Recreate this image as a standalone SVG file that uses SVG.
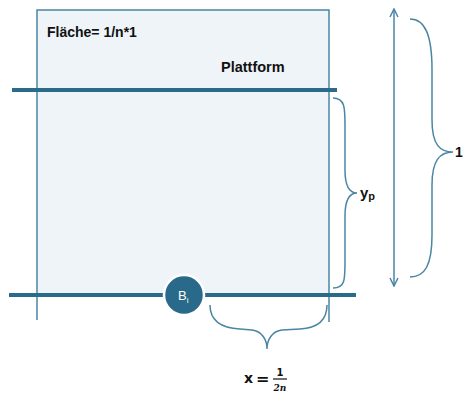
<svg xmlns="http://www.w3.org/2000/svg" width="465" height="395" viewBox="0 0 465 395">
<defs>
<style>
.thin{fill:none;stroke:#4a86a3;stroke-width:1.5}
.thick{fill:none;stroke:#2b6b8a;stroke-width:4}
.lbl{font-family:"Liberation Sans",Arial,sans-serif;font-weight:bold;fill:#111}
</style>
<marker id="chev" viewBox="0 0 10 10" refX="9" refY="5" markerWidth="10" markerHeight="10" markerUnits="userSpaceOnUse" orient="auto-start-reverse">
<path d="M1,1 L9,5 L1,9" fill="none" stroke="#4a86a3" stroke-width="1.5"/>
</marker>
</defs>
<rect width="465" height="395" fill="#fff"/>
<g id="area">
<rect x="37" y="10" width="292" height="285" fill="#eef4f8" stroke="#4a86a3" stroke-width="1.5"/>
<line class="thin" x1="37" y1="295" x2="37" y2="320"/>
<line class="thin" x1="329" y1="295" x2="329" y2="322"/>
<text class="lbl" x="47" y="37" font-size="14">Fläche= 1/n*1</text>
<text class="lbl" x="221" y="72" font-size="14.5">Plattform</text>
</g>
<g id="connectors">
<line class="thick" x1="12" y1="90" x2="337" y2="90"/>
<line class="thick" x1="9" y1="295" x2="356" y2="295"/>
<line class="thin" x1="394" y1="9" x2="394" y2="286" marker-start="url(#chev)" marker-end="url(#chev)"/>
<path class="thin" d="M333,98 C345,98 345,108 345,125 L345,170 C345,186 350,193 357,193 C350,193 345,200 345,216 L345,262 C345,280 345,288 333,288"/>
<path class="thin" d="M410,19 C425,19 432,35 432,70 L432,120 C432,145 440,152 453,152 C440,152 432,160 432,185 L432,235 C432,265 425,277 410,277"/>
<path class="thin" d="M210,305 C210,320 220,328 240,329 L252,330 C262,331 267,340 267,349 C267,340 272,331 282,330 L300,329 C318,328 327,320 327,305"/>
</g>
<g id="Bi">
<circle cx="184" cy="295" r="20" fill="#296a8a" stroke="#fff" stroke-width="2.5"/>
<text x="178" y="300" font-family="Liberation Sans,Arial,sans-serif" font-size="13" fill="#fff">B<tspan font-size="8" dy="3">i</tspan></text>
</g>
<g id="labels">
<text class="lbl" x="360" y="198" font-size="15">y<tspan font-size="11" dy="2">p</tspan></text>
<text class="lbl" x="455" y="157" font-size="14">1</text>
<text x="244" y="383" font-family="DejaVu Sans,sans-serif" font-weight="bold" font-size="14" fill="#111">x</text>
<text x="256" y="384" font-family="DejaVu Sans,sans-serif" font-weight="bold" font-size="16" fill="#111">=</text>
<text x="280" y="376" text-anchor="middle" font-family="DejaVu Sans,sans-serif" font-weight="bold" font-size="10" fill="#111">1</text>
<line x1="273" y1="379" x2="287" y2="379" stroke="#111" stroke-width="1.2"/>
<text x="280" y="391" text-anchor="middle" font-family="DejaVu Serif,serif" font-weight="bold" font-style="italic" font-size="9" fill="#111">2n</text>
</g>
</svg>
